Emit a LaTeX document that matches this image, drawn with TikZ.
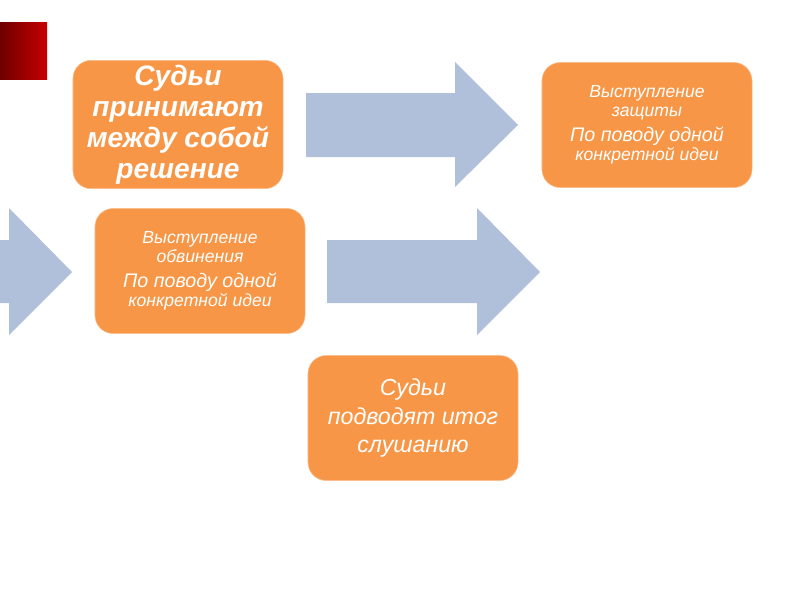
\documentclass[tikz,border=0pt]{standalone}
\usepackage{fontspec}
\setmainfont{Liberation Sans}
\usetikzlibrary{positioning}
\usepackage{xcolor}
\definecolor{stepOrange}{RGB}{247,150,70}
\definecolor{stepEdge}{RGB}{250,190,140}
\definecolor{arrowBlue}{RGB}{176,192,218}
\definecolor{markDark}{RGB}{110,0,0}
\definecolor{markRed}{RGB}{200,0,0}
\newcommand{\headtext}{\fontsize{12.5}{13.5}\selectfont}
\newcommand{\ideatext}{\fontsize{14}{13.5}\selectfont}
\tikzset{
    stage/.style={
        draw=stepEdge,thin,rounded corners=13pt,fill=stepOrange,
        minimum width=5.25cm,minimum height=3.125cm,
        align=center,text=white,font=\itshape
    },
    blockarrow/.style={
        fill=arrowBlue,draw=none
    }
}
\begin{document}
\begin{tikzpicture}[x=0.025cm,y=-0.025cm]
\useasboundingbox (0,0) rectangle (800,600);

% red corner mark
\shade[left color=markDark,right color=markRed] (0,22) rectangle (47,79);

% stages
\node[stage,font=\itshape\bfseries\fontsize{20}{22}\selectfont]
(judge) at (178,124.5) {Судьи\\принимают\\между собой\\решение};

\node[stage,font=\itshape\headtext]
(defence) at (647,125)
{Выступление\\защиты\\[4pt]\ideatext По поводу одной\\конкретной идеи};

\node[stage,font=\itshape\headtext]
(charge) at (200,271)
{Выступление\\обвинения\\[4pt]\ideatext По поводу одной\\конкретной идеи};

\node[stage,font=\itshape\fontsize{16.5}{20.5}\selectfont]
(summary) at (413,418) {Судьи\\подводят итог\\слушанию};

% block arrows
\fill[blockarrow] (-150,240) -- (9,240) -- (9,208) -- (72,272)
    -- (9,335) -- (9,303) -- (-150,303) -- cycle;
\fill[blockarrow] (306,93) -- (455,93) -- (455,62) -- (518,125)
    -- (455,187) -- (455,157) -- (306,157) -- cycle;
\fill[blockarrow] (327,240) -- (477,240) -- (477,208) -- (540,272)
    -- (477,335) -- (477,303) -- (327,303) -- cycle;

\end{tikzpicture}
\end{document}
